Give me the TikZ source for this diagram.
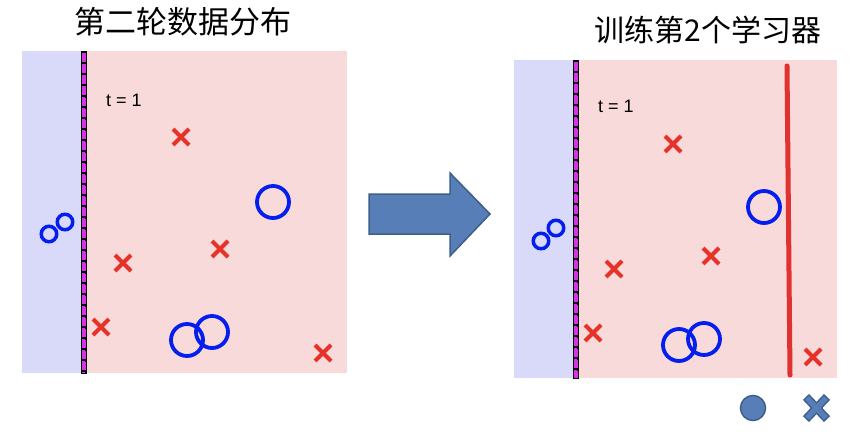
\documentclass[tikz,border=0pt]{standalone}
\usepackage{fontspec}
\usetikzlibrary{calc}
\setmainfont{Liberation Sans}
\newfontfamily\cjk{Noto Sans CJK SC}
\definecolor{bgblue}{RGB}{217,218,249}
\definecolor{bgpink}{RGB}{248,218,218}
\definecolor{magline}{RGB}{214,50,232}
\definecolor{xred}{RGB}{230,50,40}
\definecolor{ocblue}{RGB}{5,30,240}
\definecolor{arfill}{RGB}{88,126,184}
\definecolor{arline}{RGB}{62,94,140}
\definecolor{hred}{RGB}{224,50,48}
\tikzset{
  xmark/.pic={\draw[xred,line width=4pt] (-8,-8) -- (8,8) (-8,8) -- (8,-8);},
  bigo/.style={draw=ocblue,line width=3.8pt,circle,minimum size=32pt,inner sep=0pt},
  smallo/.style={draw=ocblue,line width=3.5pt,circle,minimum size=15.5pt,inner sep=0pt},
  title/.style={font=\cjk\fontsize{31}{33}\selectfont,inner sep=0pt},
  tlabel/.style={font=\fontsize{18}{19}\selectfont,inner sep=0pt},
}
\begin{document}
\begin{tikzpicture}[x=1pt,y=-1pt]
\useasboundingbox[fill=white] (0,0) rectangle (865,444);
% titles
\node[title] (t1) at (183,22) {第二轮数据分布};
\node[title,font=\cjk\fontsize{30}{32}\selectfont] (t2) at (708,30) {训练第2个学习器};
% left panel
\fill[bgblue] (22,51) rectangle (83,373);
\fill[bgpink] (83,51) rectangle (347,373);
\draw[black,line width=0.6pt,fill=magline] (81.2,51) rectangle (85.8,373);
\draw[black,line width=4pt,dash pattern=on 2.5pt off 8.5pt] (83.5,51) -- (83.5,373);
\draw[magline,line width=2.4pt] (83.5,51) -- (83.5,373);
\draw[black,line width=2.4pt,dash pattern=on 2pt off 9pt] (83.5,51) -- (83.5,373);
\node[tlabel] (l1) at (124,100) {t = 1};
\pic at (181,137) {xmark};
\pic at (123,263) {xmark};
\pic at (220,249) {xmark};
\pic at (101,327) {xmark};
\pic at (323,353) {xmark};
\node[bigo] (a1) at (273,202) {};
\node[bigo] (a2) at (187,340) {};
\node[bigo] (a3) at (212,332) {};
\node[smallo] (a4) at (49,234) {};
\node[smallo] (a5) at (65,222) {};
% arrow
\draw[arline,line width=1.5pt,fill=arfill,line join=miter]
  (369,194) -- (450,194) -- (450,173) -- (490,214) -- (450,256) -- (450,234) -- (369,234) -- cycle;
% right panel
\fill[bgblue] (514,60) rectangle (575,378);
\fill[bgpink] (575,60) rectangle (837,378);
\draw[black,line width=0.6pt,fill=magline] (573.2,60) rectangle (577.8,378);
\draw[black,line width=4pt,dash pattern=on 2.5pt off 8.5pt] (575.5,60) -- (575.5,378);
\draw[magline,line width=2.4pt] (575.5,60) -- (575.5,378);
\draw[black,line width=2.4pt,dash pattern=on 2pt off 9pt] (575.5,60) -- (575.5,378);
\node[tlabel] (l2) at (616,106) {t = 1};
\pic at (673,144) {xmark};
\pic at (614,269) {xmark};
\pic at (711,256) {xmark};
\pic at (593,333) {xmark};
\pic at (813,357) {xmark};
\node[bigo] (b1) at (764,207) {};
\node[bigo] (b2) at (679,345) {};
\node[bigo] (b3) at (704,339) {};
\node[smallo] (b4) at (541,241) {};
\node[smallo] (b5) at (556,228) {};
\coordinate (h1) at (787,66);
\coordinate (h2) at (790,375);
\draw[hred,line width=5pt,line cap=round] (h1) -- (h2);
% legend
\node[circle,draw=arline,line width=1.5pt,fill=arfill,minimum size=25pt,inner sep=0pt] (lc) at (753,408) {};
\coordinate (xa) at (807,398);
\coordinate (xb) at (826,418);
\coordinate (xc) at (807,418);
\coordinate (xd) at (826,398);
\draw[arline,line width=8.5pt] ($(xa)!-1.5pt!(xb)$) -- ($(xb)!-1.5pt!(xa)$) ($(xc)!-1.5pt!(xd)$) -- ($(xd)!-1.5pt!(xc)$);
\draw[arfill,line width=5.5pt] (xa) -- (xb) (xc) -- (xd);
\end{tikzpicture}
\end{document}
